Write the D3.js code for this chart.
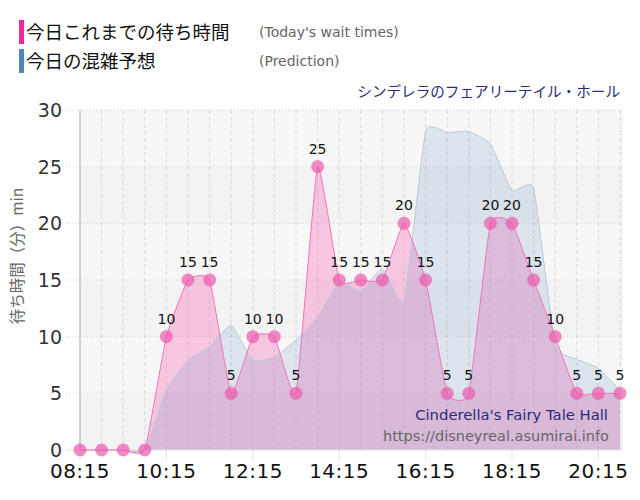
<!DOCTYPE html>
<html>
<head>
<meta charset="utf-8">
<script src="https://d3js.org/d3.v7.min.js"></script>
<style>
  html, body { margin: 0; background: #fff; }
  svg { display: block; }
  .jp { font-family: "Noto Sans CJK JP", sans-serif; }
  .num { font-family: "DejaVu Sans", Verdana, sans-serif; }
</style>
</head>
<body>
<script>
// half-hourly slots
var times = ["08:15","08:45","09:15","09:45","10:15","10:45","11:15","11:45","12:15","12:45",
             "13:15","13:45","14:15","14:45","15:15","15:45","16:15","16:45","17:15","17:45",
             "18:15","18:45","19:15","19:45","20:15","20:45"];
var waitTimes = [0,0,0,0,10,15,15,5,10,10,5,25,15,15,15,20,15,5,5,20,20,15,10,5,5,5];
var prediction = [0,0,0,0,5.3,7.9,9.1,11.0,7.9,8.2,9.7,11.7,14.8,14.0,16.0,13.1,28.1,28.0,28.1,27.0,
                  22.9,23.1,9.3,8.0,7.2,5.3];
var yTicks = [0,5,10,15,20,25,30];
var xTickLabels = ["08:15","10:15","12:15","14:15","16:15","18:15","20:15"];

var W = 640, H = 500;
var parse = d3.timeParse("%H:%M");

var svg = d3.select("body").append("svg")
    .attr("width", W)
    .attr("height", H);

var x = d3.scaleTime()
    .domain([parse("08:15"), parse("20:45")])
    .range([80, 620]);
var y = d3.scaleLinear()
    .domain([0, 30])
    .range([450, 110]);

var left = 80, right = 622;

// plot background bands
svg.append("g").selectAll("rect")
    .data(d3.range(0, 30, 5))
    .join("rect")
    .attr("x", left)
    .attr("width", right - left)
    .attr("y", function(d) { return y(d + 5); })
    .attr("height", function(d) { return y(d) - y(d + 5); })
    .attr("fill", function(d, i) { return i % 2 ? "#f7f7f7" : "#f3f3f3"; });

// vertical grid
svg.append("g").selectAll("line")
    .data(times.slice(1))
    .join("line")
    .attr("x1", function(d) { return x(parse(d)); })
    .attr("x2", function(d) { return x(parse(d)); })
    .attr("y1", 110)
    .attr("y2", 450)
    .attr("stroke", "#d8d8d8")
    .attr("stroke-dasharray", "4,3");

// horizontal grid
svg.append("g").selectAll("line")
    .data(yTicks.slice(1))
    .join("line")
    .attr("x1", 66)
    .attr("x2", right)
    .attr("y1", function(d) { return y(d); })
    .attr("y2", function(d) { return y(d); })
    .attr("stroke", "#d3d3d3")
    .attr("stroke-dasharray", "1,2");

// right border
svg.append("line")
    .attr("x1", right).attr("x2", right)
    .attr("y1", 110).attr("y2", 450)
    .attr("stroke", "#dadada")
    .attr("stroke-dasharray", "1,2");

var curve = d3.curveCardinal.tension(0.6);

var area = function(vals) {
    return d3.area()
        .x(function(d, i) { return x(parse(times[i])); })
        .y0(y(0))
        .y1(function(d) { return y(d); })
        .curve(curve)(vals);
};
var line = function(vals) {
    return d3.line()
        .x(function(d, i) { return x(parse(times[i])); })
        .y(function(d) { return y(d); })
        .curve(curve)(vals);
};

// today's wait times fill
svg.append("path")
    .attr("d", area(waitTimes))
    .attr("fill", "rgb(247,106,185)")
    .attr("fill-opacity", 0.34);

// prediction (drawn over)
svg.append("path")
    .attr("d", area(prediction))
    .attr("fill", "rgb(70,130,180)")
    .attr("fill-opacity", 0.15);
svg.append("path")
    .attr("d", line(prediction))
    .attr("fill", "none")
    .attr("stroke", "#b9c9d6")
    .attr("stroke-width", 1);

// axes lines
svg.append("line")
    .attr("x1", left).attr("x2", left)
    .attr("y1", 110).attr("y2", 450)
    .attr("stroke", "#aaa3bb");
svg.append("line")
    .attr("x1", left).attr("x2", right)
    .attr("y1", 450).attr("y2", 450)
    .attr("stroke", "#e2e2e2");

// y ticks
svg.append("line")
    .attr("x1", 66).attr("x2", left)
    .attr("y1", y(0)).attr("y2", y(0))
    .attr("stroke", "#ddd");
svg.append("g").selectAll("text")
    .data(yTicks)
    .join("text")
    .attr("class", "num")
    .attr("x", 62)
    .attr("y", function(d) { return y(d) + 7; })
    .attr("text-anchor", "end")
    .attr("font-size", 19)
    .attr("fill", "#333")
    .text(function(d) { return d; });

// x ticks
svg.append("g").selectAll("line")
    .data(xTickLabels)
    .join("line")
    .attr("x1", function(d) { return x(parse(d)); })
    .attr("x2", function(d) { return x(parse(d)); })
    .attr("y1", 450).attr("y2", 460)
    .attr("stroke", "#e0e0e0");
svg.append("g").selectAll("text")
    .data(xTickLabels)
    .join("text")
    .attr("class", "num")
    .attr("x", function(d) { return x(parse(d)); })
    .attr("y", 478)
    .attr("text-anchor", "middle")
    .attr("font-size", 20)
    .attr("letter-spacing", 0.5)
    .attr("fill", "#111")
    .text(function(d) { return d; });

// y title
svg.append("text")
    .attr("class", "jp")
    .attr("transform", "translate(23,256) rotate(-90)")
    .attr("text-anchor", "middle")
    .attr("font-size", 15.5)
    .attr("fill", "#666")
    .text("待ち時間（分）min");

// wait time line + points
svg.append("path")
    .attr("d", line(waitTimes))
    .attr("fill", "none")
    .attr("stroke", "#f272b8")
    .attr("stroke-width", 1);

svg.append("g").selectAll("circle")
    .data(waitTimes)
    .join("circle")
    .attr("cx", function(d, i) { return x(parse(times[i])); })
    .attr("cy", function(d) { return y(d); })
    .attr("r", 6.5)
    .attr("fill", "rgb(236,90,172)")
    .attr("fill-opacity", 0.7);

svg.append("g").selectAll("text")
    .data(waitTimes)
    .join("text")
    .attr("class", "num")
    .attr("x", function(d, i) { return x(parse(times[i])); })
    .attr("y", function(d) { return y(d) - 13; })
    .attr("text-anchor", "middle")
    .attr("font-size", 14)
    .attr("fill", "#111")
    .text(function(d) { return d > 0 ? d : ""; });

// watermark
svg.append("text")
    .attr("class", "num")
    .attr("x", 608).attr("y", 420)
    .attr("text-anchor", "end")
    .attr("font-size", 14.8)
    .attr("fill", "#2b2b7a")
    .text("Cinderella's Fairy Tale Hall");
svg.append("text")
    .attr("class", "num")
    .attr("x", 609).attr("y", 441)
    .attr("text-anchor", "end")
    .attr("font-size", 14.5)
    .attr("fill", "#666")
    .text("https://disneyreal.asumirai.info");

// facility name
svg.append("text")
    .attr("class", "jp")
    .attr("x", 620).attr("y", 97)
    .attr("text-anchor", "end")
    .attr("font-size", 14.6)
    .attr("fill", "#2b2b7a")
    .text("シンデレラのフェアリーテイル・ホール");

// legend
var legend = [
    { jp: "今日これまでの待ち時間", en: "(Today's wait times)", color: "#f0269a" },
    { jp: "今日の混雑予想", en: "(Prediction)", color: "#4f86b6" }
];
var lg = svg.append("g").selectAll("g")
    .data(legend)
    .join("g")
    .attr("transform", function(d, i) { return "translate(0," + (i * 29) + ")"; });
lg.append("rect")
    .attr("x", 19).attr("y", 20)
    .attr("width", 5).attr("height", 24)
    .attr("fill", function(d) { return d.color; });
lg.append("text")
    .attr("class", "jp")
    .attr("x", 26).attr("y", 39)
    .attr("font-size", 18.5)
    .attr("fill", "#111")
    .text(function(d) { return d.jp; });
lg.append("text")
    .attr("class", "num")
    .attr("x", 259).attr("y", 37)
    .attr("font-size", 14)
    .attr("fill", "#666")
    .text(function(d) { return d.en; });
</script>
</body>
</html>
